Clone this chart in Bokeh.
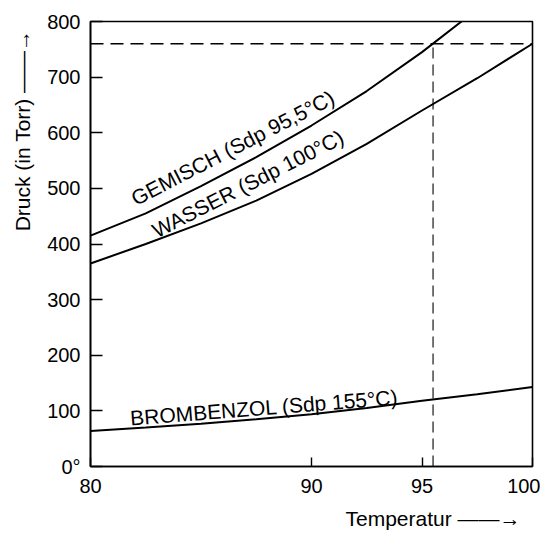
import math
from bokeh.plotting import figure
from bokeh.models import Range1d, FixedTicker, Label, Title
from bokeh.embed import file_html
from bokeh.resources import INLINE

# ---- data ----
temperatur = [80, 82.5, 85, 87.5, 90, 92.5, 95, 97.5, 100]
gemisch = [415, 455, 504, 556, 613, 675, 745, 822, 905]
wasser = [365, 400, 437, 478, 526, 580, 640, 698, 760]
brombenzol = [64, 70, 77, 85, 94, 105, 118, 130, 143]

x_ticks = [80, 90, 95, 100]
y_ticks = [0, 100, 200, 300, 400, 500, 600, 700, 800]

normaldruck = 760      # Torr
sdp_gemisch = 95.5     # °C

FONT = "Liberation Sans"

p = figure(width=540, height=538,
           x_range=Range1d(80, 100), y_range=Range1d(0, 800),
           output_backend="svg", toolbar_location=None,
           min_border_left=90, min_border_right=8,
           min_border_top=21, min_border_bottom=71)

p.background_fill_color = "white"
p.border_fill_color = "white"
p.grid.visible = False
p.outline_line_color = "black"
p.outline_line_width = 1.6
p.outline_line_alpha = 1.0

# axes
for ax in (p.xaxis[0], p.yaxis[0]):
    ax.axis_line_color = "black"
    ax.axis_line_width = 1.6
    ax.major_tick_line_color = "black"
    ax.major_tick_line_width = 1.4
    ax.minor_tick_line_color = None
    ax.major_tick_out = 0
    ax.major_label_text_font = FONT
    ax.major_label_text_font_size = "20px"
    ax.major_label_text_color = "black"

p.xaxis.ticker = FixedTicker(ticks=x_ticks)
p.xaxis.major_tick_in = 9
p.xaxis.major_label_standoff = 12

p.yaxis.ticker = FixedTicker(ticks=y_ticks)
p.yaxis.major_tick_in = 12
p.yaxis.major_label_standoff = 10
p.yaxis.major_label_overrides = {0: "0°"}

# curves
p.line(temperatur, gemisch, line_color="black", line_width=2)
p.line(temperatur, wasser, line_color="black", line_width=2)
p.line(temperatur, brombenzol, line_color="black", line_width=2)

# dashed guide lines
p.line([temperatur[0], temperatur[-1]], [normaldruck, normaldruck],
       line_color="black", line_width=1.3, line_dash="13 7")
p.line([sdp_gemisch, sdp_gemisch], [0, normaldruck],
       line_color="black", line_width=1.1, line_dash="11 6")

# curve labels
def lbl(x, y, text, ang_deg):
    p.add_layout(Label(x=x, y=y, text=text, angle=math.radians(ang_deg),
                       text_font=FONT, text_font_size="21px",
                       text_color="black", text_align="left",
                       text_baseline="alphabetic"))

lbl(81.9, 480, "GEMISCH (Sdp 95,5°C)", 27.3)
lbl(82.85, 422, "WASSER (Sdp 100°C)", 27)
lbl(81.8, 87, "BROMBENZOL (Sdp 155°C)", 4.5)

# axis titles with arrows
p.add_layout(Title(text="Druck (in Torr) \u2014\u2014\u2192", align="right", offset=8,
                   standoff=17, vertical_align="top",
                   text_font=FONT, text_font_size="21px",
                   text_font_style="normal", text_color="black"), "left")
p.add_layout(Title(text="Temperatur \u2014\u2014\u2192", align="right", offset=12,
                   standoff=18, text_font=FONT, text_font_size="21px",
                   text_font_style="normal", text_color="black"), "below")

open("out.html", "w").write(file_html(p, INLINE))
